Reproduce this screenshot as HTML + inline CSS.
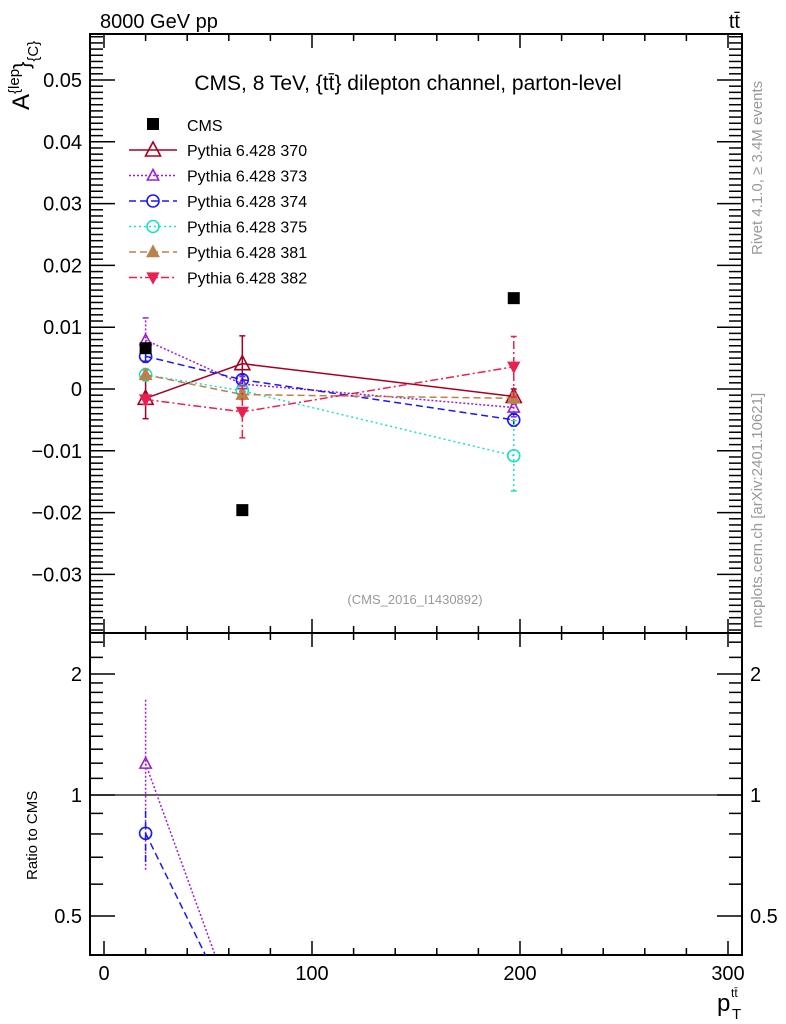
<!DOCTYPE html>
<html><head><meta charset="utf-8"><style>
body{margin:0;background:#fff;overflow:hidden}
svg{display:block;font-family:"Liberation Sans",sans-serif}
</style></head><body>
<svg id="c" width="786" height="1024" xmlns="http://www.w3.org/2000/svg">
<text x="100" y="28" font-size="20">8000 GeV pp</text>
<text x="740" y="28" font-size="20" text-anchor="end">tt̄</text>
<text x="408" y="90" font-size="21" text-anchor="middle">CMS, 8 TeV, {tt̄} dilepton channel, parton-level</text>
<text x="415" y="604" font-size="13" fill="#999" text-anchor="middle">(CMS_2016_I1430892)</text>
<text transform="translate(762,255) rotate(-90)" font-size="15" fill="#999">Rivet 4.1.0, ≥ 3.4M events</text>
<text transform="translate(762,628) rotate(-90)" font-size="15" fill="#999">mcplots.cern.ch [arXiv:2401.10621]</text>
<text transform="translate(29,110) rotate(-90)" font-size="24">A<tspan dy="-10" font-size="15">{lep</tspan><tspan dy="10" font-size="22">}</tspan><tspan dy="9" font-size="15">{C}</tspan></text>
<text transform="translate(37,880) rotate(-90)" font-size="15">Ratio to CMS</text>
<text x="717" y="1011" font-size="24">p</text>
<text x="732" y="1019" font-size="15">T</text>
<text x="731" y="997" font-size="12">tt̄</text>
<g id="g"></g>
</svg>
<script>
const xs=[20,66.5,197];
const cms=[0.0066,-0.0196,0.0147];
const names=["370","373","374","375","381","382"];
const v370=[-0.0015,0.0041,-0.0012];
const v373=[0.0079,0.0008,-0.0030];
const v374=[0.0053,0.0015,-0.0050];
const v375=[0.0023,-0.0003,-0.0108];
const v381=[0.0023,-0.0009,-0.0015];
const v382=[-0.0017,-0.0037,0.0036];
const e370=[0.0033,0.0045,0.0012];
const e373=[0.0036,0.0012,0.0015];
const e374=[0.0008,0.0008,0.0010];
const e375=[0.0010,0.0008,0.0057];
const e381=[0.0008,0.0008,0.0008];
const e382=[0.0008,0.0042,0.0049];
const yTicks=[-0.03,-0.02,-0.01,0,0.01,0.02,0.03,0.04,0.05];
const yLabels=["−0.03","−0.02","−0.01","0","0.01","0.02","0.03","0.04","0.05"];
const xTicks=[0,100,200,300];
const rTicks=[0.5,1,2];
const rLabels=["0.5","1","2"];

const X=v=>104+2.08*v;
const Y=v=>389-6180*v;
const R=r=>{if(r<=0)return 1030;r=Math.max(r,0.05);return 795-121*Math.log2(r);};
const L=90,Rt=742,T=34,B=633,RB=955;
const NS="http://www.w3.org/2000/svg";
const g=document.getElementById('g');
function el(t,a,p){const e=document.createElementNS(NS,t);for(const k in a)e.setAttribute(k,a[k]);(p||g).appendChild(e);return e;}
function ln(x1,y1,x2,y2,s,w,d,p){return el('line',{x1,y1,x2,y2,stroke:s,'stroke-width':w||1,'stroke-dasharray':d||'none'},p);}

let f1=el('rect',{x:L,y:T,width:Rt-L,height:B-T,fill:'none',stroke:'#000','stroke-width':2});


let f2=el('rect',{x:L,y:B,width:Rt-L,height:RB-B,fill:'none',stroke:'#000','stroke-width':2});



for(let v=0;v<=300;v+=20){const x=X(v);const big=v%100===0;const h=big?14:7;
 ln(x,T,x,T+h,'#000',1.5);ln(x,B,x,B-h,'#000',1.5);ln(x,B,x,B+h,'#000',1.5);ln(x,RB,x,RB-h,'#000',1.5);}
xTicks.forEach(v=>{const t=el('text',{x:X(v),y:980,'font-size':20,'text-anchor':'middle'});t.textContent=v;

});
for(let i=-39;i<=57;i++){const v=i/1000;const y=Y(v);if(y<T+1||y>B-1)continue;const big=i%10===0;const h=big?25:13;
 ln(L,y,L+h,y,'#000',1.5);ln(Rt,y,Rt-h,y,'#000',1.5);}
yTicks.forEach((v,i)=>{const t=el('text',{x:82,y:Y(v)+7,'font-size':20,'text-anchor':'end'});t.textContent=yLabels[i];

});
[0.4,0.5,0.6,0.7,0.8,0.9,1,1.1,1.2,1.3,1.4,1.5,1.6,1.7,1.8,1.9,2,2.2,2.4].forEach(r=>{const y=R(r);if(y<B+1||y>RB-1)return;
 const big=rTicks.includes(r);const h=big?25:13;ln(L,y,L+h,y,'#000',1.5);ln(Rt,y,Rt-h,y,'#000',1.5);});
rTicks.forEach((r,i)=>{let t=el('text',{x:82,y:R(r)+7,'font-size':20,'text-anchor':'end'});t.textContent=rLabels[i];


t=el('text',{x:750,y:R(r)+7,'font-size':20});t.textContent=rLabels[i];

});
ln(L,R(1),Rt,R(1),'#000',1.2);

const series=[
 {v:v370,e:e370,c:'#a50021',d:'none',m:'tri',fill:false,s:1},
 {v:v373,e:e373,c:'#9a1fd8',d:'2,2',m:'tri',fill:false,s:0.75},
 {v:v374,e:e374,c:'#1a1aef',d:'7,4',m:'circ',fill:false,s:1},
 {v:v375,e:e375,c:'#1ce0c8',d:'2,3',m:'circ',fill:false,s:1},
 {v:v381,e:e381,c:'#b9824a',d:'7,4',m:'tri',fill:true,s:0.75},
 {v:v382,e:e382,c:'#e8204f',d:'8,3,2,3',m:'dtri',fill:true,s:0.75}];

function marker(m,x,y,c,fill,s,p){s=s||1;
 if(m==='tri')return el('polygon',{points:`${x},${y-8*s} ${x-7.5*s},${y+6*s} ${x+7.5*s},${y+6*s}`,fill:fill?c:'#fff','fill-opacity':fill?1:0,stroke:c,'stroke-width':1.6},p);
 if(m==='dtri')return el('polygon',{points:`${x},${y+8*s} ${x-7.5*s},${y-6*s} ${x+7.5*s},${y-6*s}`,fill:c,stroke:c,'stroke-width':1.2},p);
 return el('circle',{cx:x,cy:y,r:6,fill:'none',stroke:c,'stroke-width':1.6},p);}

const defs=el('defs',{});const cp=el('clipPath',{id:'rc'},defs);el('rect',{x:L,y:B,width:Rt-L,height:RB-B},cp);
const rg=el('g',{'clip-path':'url(#rc)'});
const inR=r=>r>0.4&&r<2.5;

series.forEach((s,k)=>{
 const sg=el('g',{});
 
 
 el('polyline',{points:xs.map((x,i)=>X(x)+','+Y(s.v[i])).join(' '),fill:'none',stroke:s.c,'stroke-width':1.5,'stroke-dasharray':s.d},sg);
 xs.forEach((x,i)=>{const px=X(x);ln(px,Y(s.v[i]-s.e[i]),px,Y(s.v[i]+s.e[i]),s.c,1.5,s.d==='none'?'none':s.d,sg);
  ln(px-3,Y(s.v[i]+s.e[i]),px+3,Y(s.v[i]+s.e[i]),s.c,1.5,'none',sg);ln(px-3,Y(s.v[i]-s.e[i]),px+3,Y(s.v[i]-s.e[i]),s.c,1.5,'none',sg);
  const mk=marker(s.m,px,Y(s.v[i]),s.c,s.fill,s.s,sg);
  
  });
 const rr=xs.map((x,i)=>s.v[i]/cms[i]);
 const re=xs.map((x,i)=>Math.abs(s.e[i]/cms[i]));
 const rs=el('g',{},rg);
 
 
 for(let i=0;i<xs.length-1;i++){
  if(!inR(rr[i])&&!inR(rr[i+1]))continue;
  ln(X(xs[i]),R(rr[i]),X(xs[i+1]),R(rr[i+1]),s.c,1.5,s.d,rs);
 }
 xs.forEach((x,i)=>{if(!inR(rr[i]))return;const px=X(x);
  ln(px,R(rr[i]-re[i]),px,R(rr[i]+re[i]),s.c,1.5,s.d==='none'?'none':s.d,rs);
  marker(s.m,px,R(rr[i]),s.c,s.fill,s.s,rs);});
});
xs.forEach((x,i)=>{const r=el('rect',{x:X(x)-6,y:Y(cms[i])-6,width:12,height:12,fill:'#000'});

});

const lg=el('g',{});


el('rect',{x:147,y:118,width:12,height:12,fill:'#000'},lg);
let t=el('text',{x:187,y:131,'font-size':16},lg);t.textContent='CMS';
series.forEach((s,k)=>{const y=150+25.5*k;
 ln(129,y,177,y,s.c,1.5,s.d,lg);marker(s.m,153,y,s.c,s.fill,s.s,lg);
 const tt=el('text',{x:187,y:y+6,'font-size':16},lg);tt.textContent='Pythia 6.428 '+names[k];
 
 });
</script>
</body></html>
